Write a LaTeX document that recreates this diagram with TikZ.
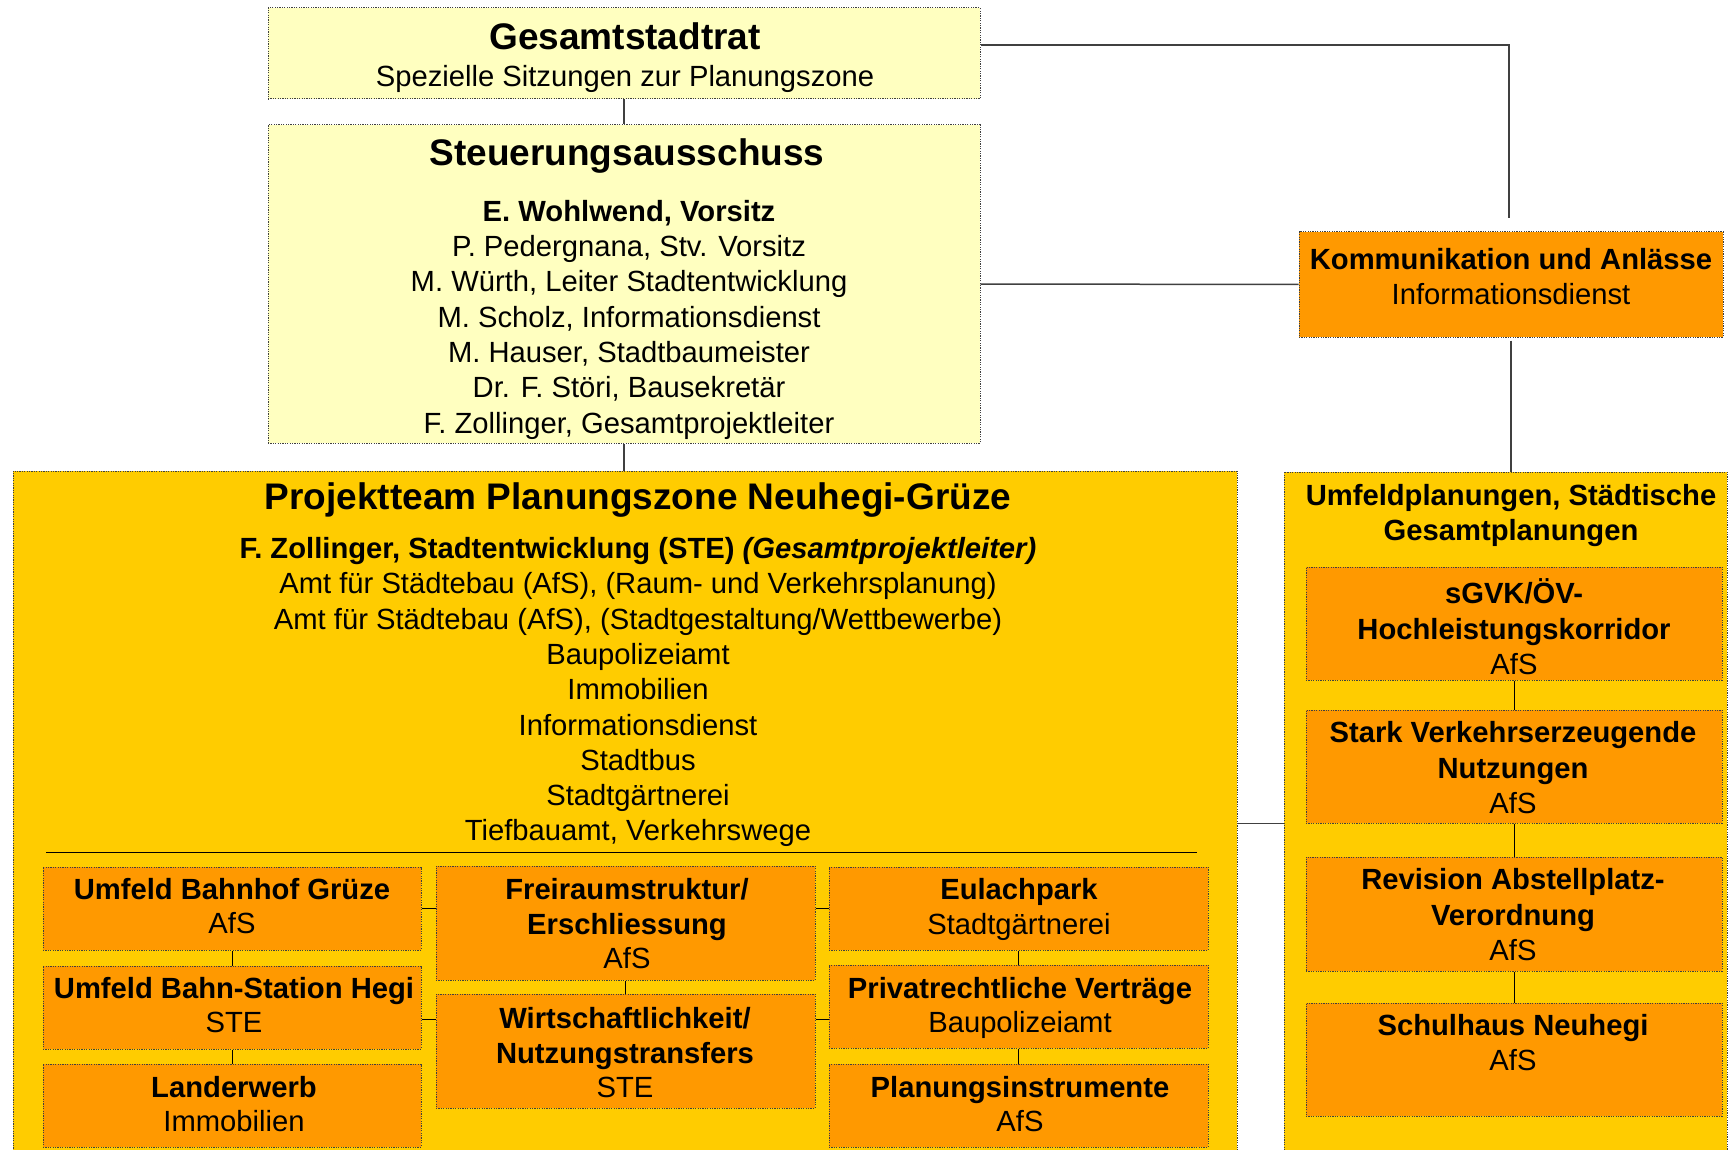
\documentclass[tikz,border=0pt]{standalone}
\usepackage{fontspec}
\setmainfont{Liberation Sans}
\usetikzlibrary{fit}
\definecolor{paleY}{HTML}{FFFFC0}
\definecolor{goldF}{HTML}{FFCC00}
\definecolor{orngF}{HTML}{FF9900}
\definecolor{bordc}{HTML}{404040}
\newcommand\Ls{\rule[-4.05pt]{0pt}{17.65pt}}
\newcommand\Lt{\rule[-3.8pt]{0pt}{17.2pt}}
\newcommand\Tt{\rule[-5.8pt]{0pt}{24.8pt}}
\begin{document}
\begin{tikzpicture}[x=0.5pt,y=-0.5pt,
  boxbase/.style={draw=bordc, line width=0.5pt, dash pattern=on 0.6pt off 0.6pt, inner sep=0pt},
  paleBox/.style={boxbase, fill=paleY},
  goldBox/.style={boxbase, fill=goldF},
  orBox/.style={boxbase, fill=orngF},
  ttl/.style={inner sep=0pt, font=\fontsize{18.5}{24.8}\selectfont\bfseries},
  bodytxt/.style={inner sep=0pt, align=center, font=\fontsize{14.6}{17.65}\selectfont},
  subtxt/.style={inner sep=0pt, align=center, font=\fontsize{14.6}{17.2}\selectfont},
  conn/.style={draw=black!75, line width=0.75pt},
  subconn/.style={draw=black, line width=0.5pt}]
\useasboundingbox (0,0) rectangle (1729,1150);
\clip (0,0) rectangle (1729,1150);

% big boxes
\node[goldBox, fit={(13,471) (1237,1165)}] (PT) {};
\node[goldBox, fit={(1284,472) (1727,1165)}] (UM) {};
\node[paleBox, fit={(268,8) (980,99)}] (GS) {};
\node[paleBox, fit={(268,125) (980,443)}] (SA) {};
\node[orBox, fit={(1299,232) (1723,337)}] (KA) {};

% sub boxes in Projektteam
\node[orBox, fit={(43,867) (421,950)}] (B1) {};
\node[orBox, fit={(43,966) (421,1049)}] (B2) {};
\node[orBox, fit={(43,1064) (421,1147)}] (B3) {};
\node[orBox, fit={(436,866) (815,980)}] (C1) {};
\node[orBox, fit={(436,994) (815,1108)}] (C2) {};
\node[orBox, fit={(829,867) (1208,950)}] (D1) {};
\node[orBox, fit={(829,965) (1208,1048)}] (D2) {};
\node[orBox, fit={(829,1064) (1208,1147)}] (D3) {};

% right column boxes
\node[orBox, fit={(1306,567) (1722,680)}] (R1) {};
\node[orBox, fit={(1306,710) (1722,823)}] (R2) {};
\node[orBox, fit={(1306,857) (1722,971)}] (R3) {};
\node[orBox, fit={(1306,1003) (1722,1116)}] (R4) {};

% connectors
\coordinate (gsCorner) at (1509,45);
\coordinate (kaGap) at (1509,218);
\draw[conn] (GS.east |- gsCorner) -- (gsCorner) -- (kaGap);
\draw[conn] (GS.south) -- (SA.north);
\draw[conn] (SA.east) -- (KA.west);
\coordinate (kaLow) at ([yshift=-1.5pt]KA.south);
\draw[conn] (kaLow) -- (kaLow |- UM.north);
\draw[conn] (SA.south) -- (SA.south |- PT.north);
\draw[conn] (R2.south -| PT.east) -- (R2.south -| UM.west);

\coordinate (sepL) at (46,852);
\coordinate (sepR) at (1197,852);
\draw[subconn] (sepL) -- (sepR);

\draw[subconn] (B1.south) -- (B2.north);
\draw[subconn] (B2.south) -- (B3.north);
\draw[subconn] (C1.south) -- (C2.north);
\draw[subconn] (D1.south) -- (D2.north);
\draw[subconn] (D2.south) -- (D3.north);
\draw[subconn] (R1.south) -- (R2.north);
\draw[subconn] (R2.south) -- (R3.north);
\draw[subconn] (R3.south) -- (R4.north);
\draw[subconn] (B1.east) -- (B1.east -| C1.west);
\coordinate (hB2) at ([yshift=-6pt]B2.east);
\draw[subconn] (hB2) -- (hB2 -| C2.west);
\draw[subconn] (D1.west -| C1.east) -- (D1.west);
\coordinate (hD2) at ([yshift=-6.5pt]D2.west);
\draw[subconn] (hD2 -| C2.east) -- (hD2);

% texts
\node[ttl] (GSt) at (625,36.4) {\Tt Gesamtstadtrat};
\node[bodytxt] (GSs) at (625,77.2) {\Ls Spezielle Sitzungen zur Planungszone};
\node[ttl] (SAt) at (627,152) {\Tt Steuerungsausschuss};
\node[bodytxt] (SAb) at (629,317.6) {\Ls\textbf{E. Wohlwend, Vorsitz}\\
\Ls P. Pedergnana, Stv. Vorsitz\\
\Ls M. Würth, Leiter Stadtentwicklung\\
\Ls M. Scholz, Informationsdienst\\
\Ls M. Hauser, Stadtbaumeister\\
\Ls Dr. F. Störi, Bausekretär\\
\Ls F. Zollinger, Gesamtprojektleiter};
\node[bodytxt] (KAt) at (1511,277.8) {\Ls\textbf{Kommunikation und Anlässe}\\\Ls Informationsdienst};
\node[ttl] (PTt) at (638,496) {\Tt Projektteam Planungszone Neuhegi-Grüze};
\node[bodytxt] (PTb) at (638,690.2) {\Ls\textbf{F. Zollinger, Stadtentwicklung (STE) \textit{(Gesamtprojektleiter)}}\\
\Ls Amt für Städtebau (AfS), (Raum- und Verkehrsplanung)\\
\Ls Amt für Städtebau (AfS), (Stadtgestaltung/Wettbewerbe)\\
\Ls Baupolizeiamt\\
\Ls Immobilien\\
\Ls Informationsdienst\\
\Ls Stadtbus\\
\Ls Stadtgärtnerei\\
\Ls Tiefbauamt, Verkehrswege};
\node[bodytxt] (UMt) at (1511,513.3) {\Ls\textbf{Umfeldplanungen, Städtische}\\\Ls\textbf{Gesamtplanungen}};

\node[subtxt] (B1t) at (232,907) {\Lt\textbf{Umfeld Bahnhof Grüze}\\\Lt AfS};
\node[subtxt] (B2t) at (234,1006) {\Lt\textbf{Umfeld Bahn-Station Hegi}\\\Lt STE};
\node[subtxt] (B3t) at (234,1105) {\Lt\textbf{Landerwerb}\\\Lt Immobilien};
\node[subtxt] (C1t) at (627,924.5) {\Lt\textbf{Freiraumstruktur/}\\\Lt\textbf{Erschliessung}\\\Lt AfS};
\node[subtxt] (C2t) at (625,1053.5) {\Lt\textbf{Wirtschaftlichkeit/}\\\Lt\textbf{Nutzungstransfers}\\\Lt STE};
\node[subtxt] (D1t) at (1019,907.5) {\Lt\textbf{Eulachpark}\\\Lt Stadtgärtnerei};
\node[subtxt] (D2t) at (1020,1006) {\Lt\textbf{Privatrechtliche Verträge}\\\Lt Baupolizeiamt};
\node[subtxt] (D3t) at (1020,1105) {\Lt\textbf{Planungsinstrumente}\\\Lt AfS};

\node[bodytxt] (R1t) at (1514,629.6) {\Ls\textbf{sGVK/ÖV-}\\\Ls\textbf{Hochleistungskorridor}\\\Ls AfS};
\node[bodytxt] (R2t) at (1513,768.6) {\Ls\textbf{Stark Verkehrserzeugende}\\\Ls\textbf{Nutzungen}\\\Ls AfS};
\node[bodytxt] (R3t) at (1513,915.5) {\Ls\textbf{Revision Abstellplatz-}\\\Ls\textbf{Verordnung}\\\Ls AfS};
\node[bodytxt] (R4t) at (1513,1043.3) {\Ls\textbf{Schulhaus Neuhegi}\\\Ls AfS};
\end{tikzpicture}
\end{document}
